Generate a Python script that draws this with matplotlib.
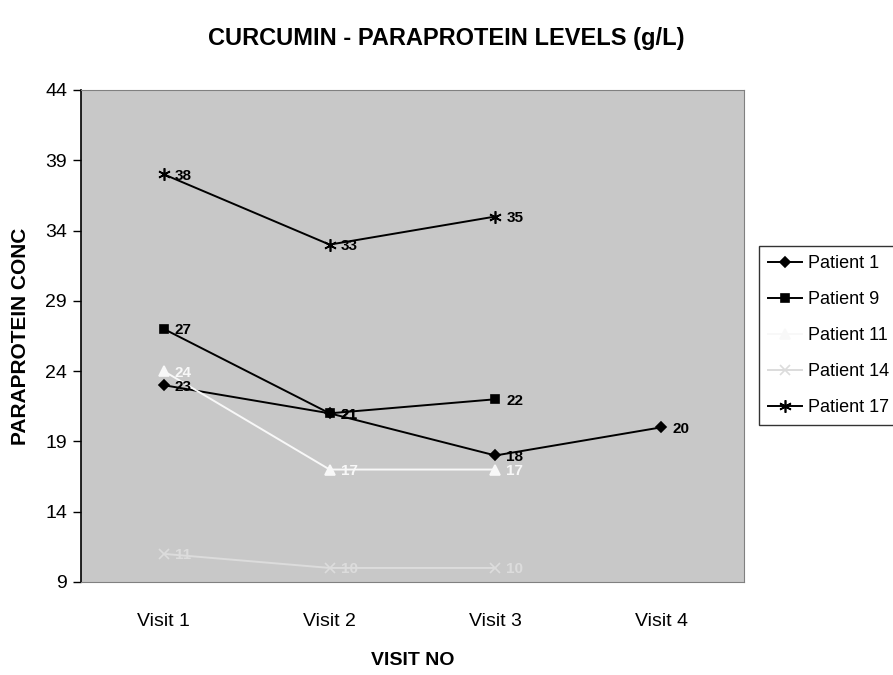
import numpy as np
import matplotlib.pyplot as plt

plt.rcParams['font.family'] = ['Liberation Sans', 'DejaVu Sans']

# data
visits = ['Visit 1', 'Visit 2', 'Visit 3', 'Visit 4']
patients = ['Patient 1', 'Patient 9', 'Patient 11', 'Patient 14', 'Patient 17']
p1 = [23, 21, 18, 20]
p9 = [27, 21, 22, np.nan]
p11 = [24, 17, 17, np.nan]
p14 = [11, 10, 10, np.nan]
p17 = [38, 33, 35, np.nan]
yticks = [9, 14, 19, 24, 29, 34, 39, 44]

series = [p1, p9, p11, p14, p17]
styles = [
    dict(color='black', marker='D', ms=5),
    dict(color='black', marker='s', ms=6),
    dict(color='#f8f8f8', marker='^', ms=7),
    dict(color='#dcdcdc', marker='x', ms=7),
    dict(color='black', marker=(6, 2, 0), ms=9),
]

W, H = 893, 675
fig = plt.figure(figsize=(W / 100, H / 100), dpi=100)
ax = fig.add_axes([81 / W, 1 - 582 / H, (744 - 81) / W, (582 - 90) / H])
ax.set_facecolor('#c8c8c8')

x = np.arange(len(visits))
for name, vals, st in zip(patients, series, styles):
    ax.plot(x, vals, color=st['color'], marker=st['marker'], markersize=st['ms'],
            markeredgewidth=1.2, linewidth=1.4, label=name)
    for xi, v in zip(x, vals):
        if not np.isnan(v):
            ax.annotate(f'{int(v)}', (xi, v), xytext=(8, -1), textcoords='offset points',
                        va='center', ha='left', fontsize=11, fontweight='bold',
                        color=st['color'])

ax.set_xlim(-0.5, 3.5)
ax.set_ylim(9, 44)
ax.set_yticks(yticks)
ax.set_xticks(x)
ax.set_xticklabels(visits)
ax.tick_params(axis='y', direction='out', length=6, width=1, labelsize=14, pad=4)
ax.tick_params(axis='x', length=0, labelsize=14, pad=22)

for side in ['top', 'right', 'bottom']:
    ax.spines[side].set_color('#808080')
ax.spines['left'].set_color('black')
ax.spines['left'].set_linewidth(1.2)

ax.set_xlabel('VISIT NO', fontsize=14, fontweight='bold', labelpad=16)
ax.set_ylabel('PARAPROTEIN CONC', fontsize=15, fontweight='bold', labelpad=11)
fig.text(0.5, 1 - 38 / H, 'CURCUMIN - PARAPROTEIN LEVELS (g/L)', ha='center', va='center',
         fontsize=17, fontweight='bold')

leg = ax.legend(loc='upper left', bbox_to_anchor=(759 / W, 1 - 246 / H),
                bbox_transform=fig.transFigure, fontsize=13, frameon=True, fancybox=False,
                edgecolor='black', handlelength=1.9, handletextpad=0.3,
                labelspacing=1.05, borderpad=0.5, borderaxespad=0)
leg.get_frame().set_linewidth(1.0)

fig.savefig('out.png', dpi=100)
